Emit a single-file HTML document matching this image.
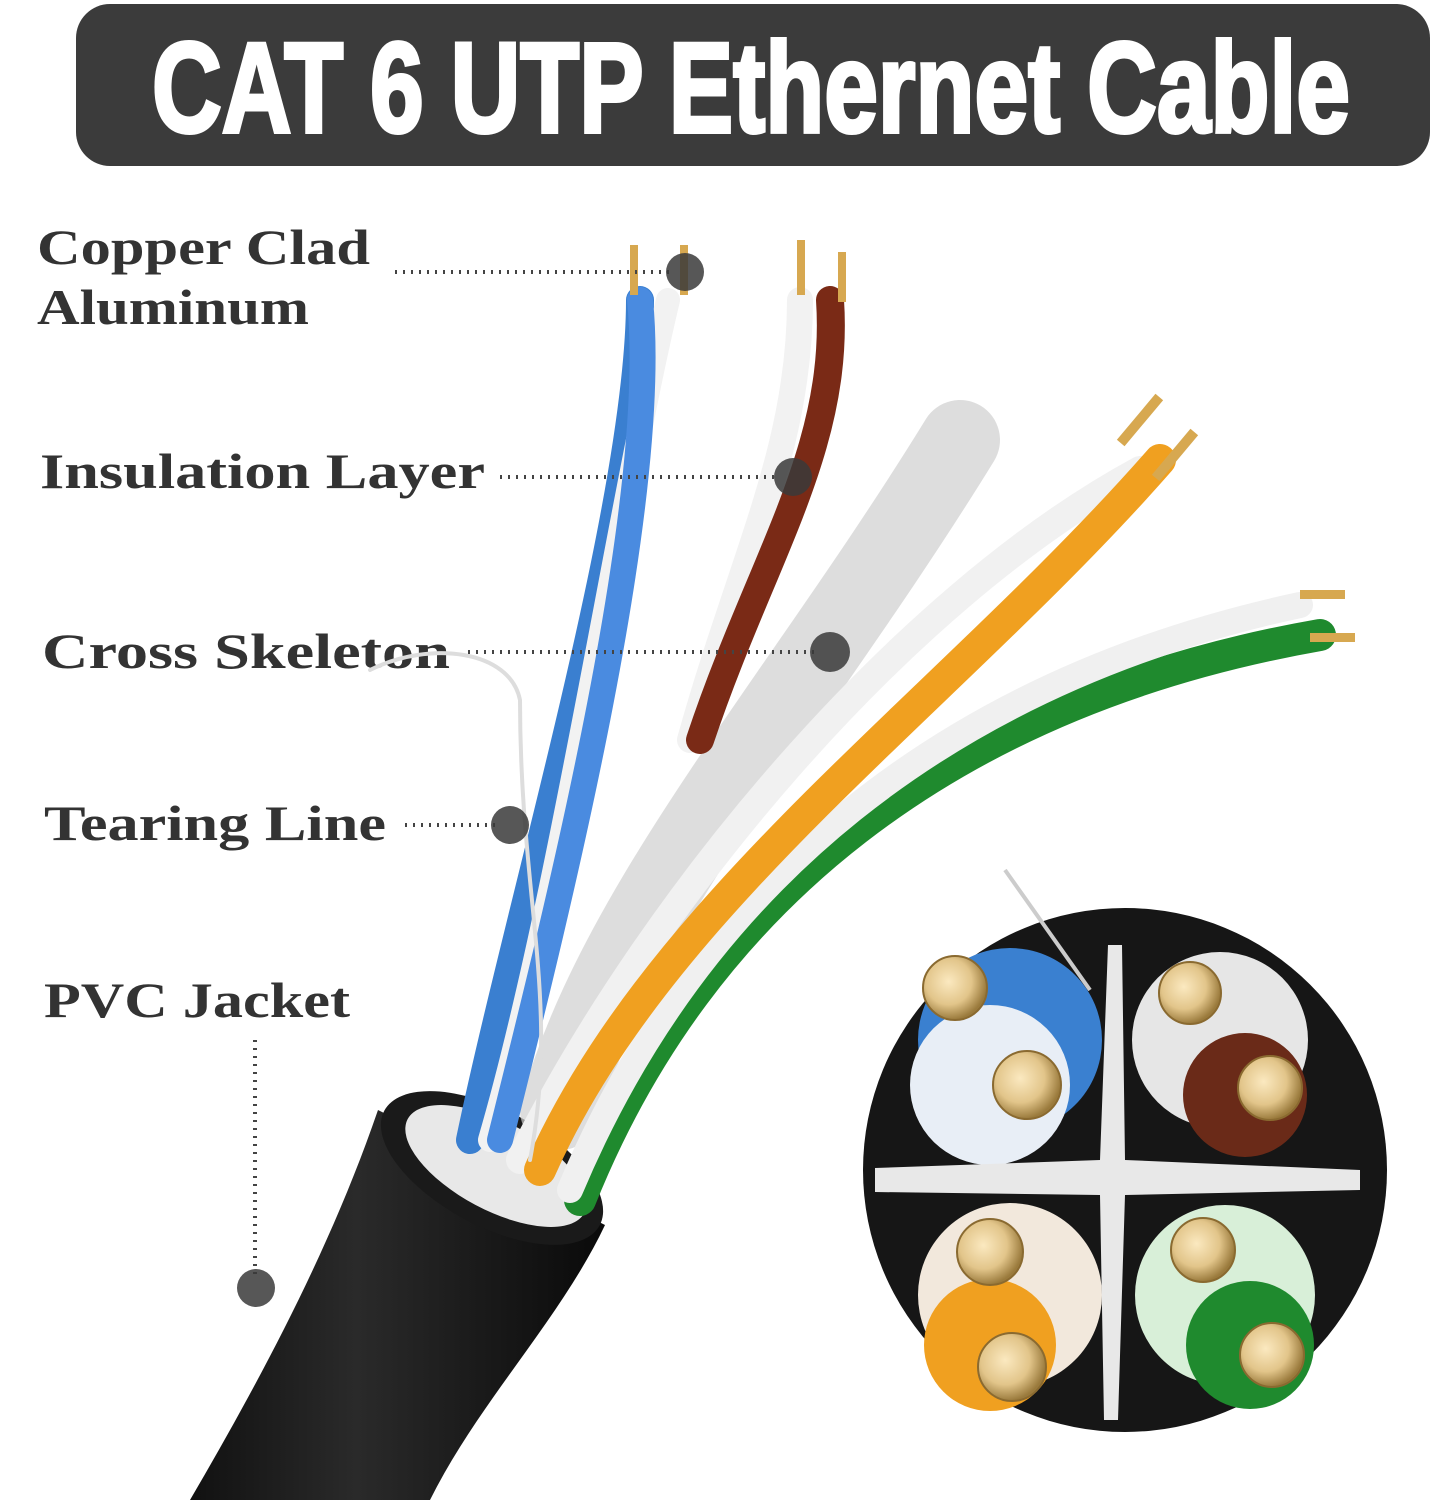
<!DOCTYPE html>
<html><head><meta charset="utf-8"><style>
html,body{margin:0;padding:0;background:#fff;}
svg{display:block;}
</style></head><body>
<svg width="1432" height="1500" viewBox="0 0 1432 1500" xmlns="http://www.w3.org/2000/svg">
<defs>
<radialGradient id="gold" cx="40%" cy="40%" r="60%">
<stop offset="0" stop-color="#fbe9c0"/><stop offset="0.6" stop-color="#e2c58a"/><stop offset="1" stop-color="#9a7a3c"/>
</radialGradient>
<linearGradient id="jk" x1="0" y1="0" x2="1" y2="0">
<stop offset="0" stop-color="#111"/><stop offset="0.4" stop-color="#2a2a2a"/><stop offset="1" stop-color="#0a0a0a"/>
</linearGradient>
</defs>
<rect width="1432" height="1500" fill="#fff"/>
<!-- title -->
<rect x="76" y="4" width="1354" height="162" rx="34" fill="#3b3b3b"/>
<text x="152" y="132" font-family="Liberation Sans, sans-serif" font-weight="bold" font-size="128" fill="#fff" stroke="#fff" stroke-width="4" textLength="1198" lengthAdjust="spacingAndGlyphs">CAT 6 UTP Ethernet Cable</text>

<!-- labels -->
<g font-family="Liberation Serif, serif" font-weight="bold" font-size="50" fill="#333">
<text x="37" y="264" textLength="333" lengthAdjust="spacingAndGlyphs">Copper Clad</text>
<text x="37" y="324" textLength="272" lengthAdjust="spacingAndGlyphs">Aluminum</text>
<text x="40" y="488" textLength="445" lengthAdjust="spacingAndGlyphs">Insulation Layer</text>
<text x="42" y="668" textLength="408" lengthAdjust="spacingAndGlyphs">Cross Skeleton</text>
<text x="44" y="840" textLength="342" lengthAdjust="spacingAndGlyphs">Tearing Line</text>
<text x="44" y="1017" textLength="306" lengthAdjust="spacingAndGlyphs">PVC Jacket</text>
</g>

<!-- cable jacket -->
<path d="M378 1110 C330 1250 260 1380 190 1500 L430 1500 C480 1400 560 1320 605 1225 Z" fill="url(#jk)"/>
<ellipse cx="492" cy="1168" rx="122" ry="58" transform="rotate(28 492 1168)" fill="#1a1a1a"/>
<ellipse cx="496" cy="1166" rx="100" ry="44" transform="rotate(28 496 1166)" fill="#e8e8e8"/>

<!-- wires -->
<g fill="none" stroke-linecap="round">
<path d="M560 1110 C620 900 800 700 960 440" stroke="#cfcfcf" stroke-width="80" opacity="0.7"/>
<path d="M470 1140 C520 900 640 500 640 300" stroke="#3a7fd0" stroke-width="28"/>
<path d="M490 1140 C560 900 620 500 668 300" stroke="#f2f2f2" stroke-width="24"/>
<path d="M500 1140 C560 900 660 500 640 300" stroke="#4a8be0" stroke-width="26"/>
<path d="M690 740 C740 560 800 450 800 300" stroke="#f2f2f2" stroke-width="26"/>
<path d="M700 740 C760 560 840 450 830 300" stroke="#7a2a16" stroke-width="28"/>
<path d="M580 1200 C700 900 950 700 1320 635" stroke="#1f8a2e" stroke-width="32"/>
<path d="M570 1190 C700 880 950 680 1300 605" stroke="#f0f0f0" stroke-width="26"/>
<path d="M520 1160 C650 900 900 600 1140 470" stroke="#f1f1f1" stroke-width="28"/>
<path d="M540 1170 C660 900 950 700 1160 460" stroke="#f0a020" stroke-width="32"/>
<path d="M530 1160 C560 1000 520 900 520 700 C510 650 430 640 370 670" stroke="#ddd" stroke-width="4"/>
</g>
<g fill="#d7a850">
<rect x="630" y="245" width="8" height="50"/><rect x="680" y="245" width="8" height="50"/>
<rect x="797" y="240" width="8" height="55"/><rect x="838" y="252" width="8" height="50"/>
<rect x="1135" y="390" width="10" height="60" transform="rotate(40 1140 420)"/>
<rect x="1170" y="425" width="10" height="60" transform="rotate(40 1175 455)"/>
<rect x="1300" y="590" width="45" height="9"/><rect x="1310" y="633" width="45" height="9"/>
</g>

<!-- dotted leaders -->
<g stroke="#444" stroke-width="4" stroke-dasharray="2 6" fill="none">
<line x1="395" y1="272" x2="670" y2="272"/>
<line x1="500" y1="477" x2="780" y2="477"/>
<line x1="468" y1="652" x2="815" y2="652"/>
<line x1="405" y1="825" x2="495" y2="825"/>
<line x1="255" y1="1040" x2="255" y2="1275"/>
</g>
<g fill="#3a3a3a" opacity="0.85">
<circle cx="685" cy="272" r="19"/><circle cx="793" cy="477" r="19"/>
<circle cx="830" cy="652" r="20"/><circle cx="510" cy="825" r="19"/>
<circle cx="256" cy="1288" r="19"/>
</g>

<!-- cross section -->
<circle cx="1125" cy="1170" r="262" fill="#161616"/>
<line x1="1005" y1="870" x2="1090" y2="990" stroke="#ccc" stroke-width="4"/>
<circle cx="1010" cy="1040" r="92" fill="#3a80d0"/><circle cx="990" cy="1085" r="80" fill="#e8eef6"/>
<circle cx="1220" cy="1040" r="88" fill="#e6e6e6"/><circle cx="1245" cy="1095" r="62" fill="#6a2a18"/>
<circle cx="1010" cy="1295" r="92" fill="#f2e8dc"/><circle cx="990" cy="1345" r="66" fill="#f0a020"/>
<circle cx="1225" cy="1295" r="90" fill="#d8efd8"/><circle cx="1250" cy="1345" r="64" fill="#1f8a2e"/>
<g fill="url(#gold)" stroke="#8a6a30" stroke-width="2">
<circle cx="955" cy="988" r="32"/><circle cx="1027" cy="1085" r="34"/>
<circle cx="1190" cy="993" r="31"/><circle cx="1270" cy="1088" r="32"/>
<circle cx="990" cy="1252" r="33"/><circle cx="1012" cy="1367" r="34"/>
<circle cx="1203" cy="1250" r="32"/><circle cx="1272" cy="1355" r="32"/>
</g>
<g fill="#e8e8e8">
<path d="M1108 945 L1122 945 L1125 1160 L1360 1170 L1360 1190 L1125 1195 L1118 1420 L1104 1420 L1100 1195 L875 1192 L875 1168 L1100 1160 Z"/>
</g>
</svg>
</body></html>
